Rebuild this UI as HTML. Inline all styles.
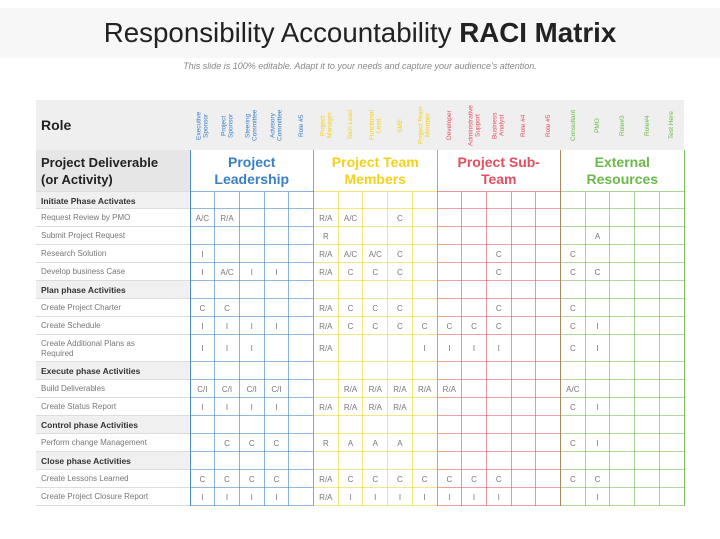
<!DOCTYPE html>
<html><head><meta charset="utf-8">
<style>
body{margin:0;width:720px;height:539px;background:#fff;font-family:"Liberation Sans",sans-serif;position:relative;overflow:hidden}
.a{position:absolute;box-sizing:border-box}
.lbl{font-size:8px;color:#777;padding-left:5px;padding-right:30px;display:flex;align-items:center;line-height:10px}
.ph{font-size:8.5px;font-weight:bold;color:#333;background:#f0f0f0}
.cell{font-size:8px;color:#777;display:flex;align-items:center;justify-content:center}
.rot{writing-mode:vertical-rl;transform:rotate(180deg);font-size:6.5px;text-align:center;line-height:7px;display:flex;align-items:center;justify-content:center}
.grp{font-size:14px;font-weight:bold;text-align:center;line-height:17px;display:flex;align-items:center;justify-content:center}
</style></head><body>
<div class="a" style="left:0;top:8px;width:720px;height:50px;background:#f7f7f7"></div>
<div class="a" style="left:0;top:17px;width:720px;text-align:center;font-size:27.7px;color:#222">Responsibility Accountability <b>RACI Matrix</b></div>
<div class="a" style="left:0;top:61px;width:720px;text-align:center;font-size:9px;font-style:italic;color:#888">This slide is 100% editable. Adapt it to your needs and capture your audience's attention.</div>
<div class="a" style="left:36px;top:100px;width:648px;height:50px;background:#efefef"></div>
<div class="a" style="left:41px;top:117px;font-size:14px;font-weight:bold;color:#222">Role</div>
<div class="a" style="left:36px;top:150px;width:154px;height:42px;background:#e6e6e6;font-size:13px;font-weight:bold;color:#222;padding:4px 5px;line-height:17px">Project Deliverable<br>(or Activity)</div>
<div id="m"></div>
<script>
const roles=["Executive Sponsor","Project Sponsor","Steering Committee","Advisory Committee","Role #5","Project Manager","Tech Lead","Functional Lead","SME","Project Team Member","Developer","Administrative Support","Business Analyst","Role #4","Role #5","Consultant","PMO","Role#3","Role#4","Test Here"];
const groups=["Project<br>Leadership","Project Team<br>Members","Project Sub-<br>Team","External<br>Resources"];
const groupColors=["#3a7fc6","#f2d21b","#e0505f","#6cb84a"];
const rowLabels=["Initiate Phase Activates","Request Review by PMO","Submit Project Request","Research Solution","Develop business Case","Plan phase Activities","Create Project Charter","Create Schedule","Create Additional Plans as Required","Execute phase Activities","Build Deliverables","Create Status Report","Control phase Activities","Perform change Management","Close phase Activities","Create Lessons Learned","Create Project Closure Report"];
const phaseRows=[0,5,9,12,14];
const rowHeights=[17,18,18,18,18,18,18,18,27,18,18,18,18,18,18,18,18];
const cells={
1:{0:"A/C",1:"R/A",5:"R/A",6:"A/C",8:"C"},
2:{5:"R",16:"A"},
3:{0:"I",5:"R/A",6:"A/C",7:"A/C",8:"C",12:"C",15:"C"},
4:{0:"I",1:"A/C",2:"I",3:"I",5:"R/A",6:"C",7:"C",8:"C",12:"C",15:"C",16:"C"},
6:{0:"C",1:"C",5:"R/A",6:"C",7:"C",8:"C",12:"C",15:"C"},
7:{0:"I",1:"I",2:"I",3:"I",5:"R/A",6:"C",7:"C",8:"C",9:"C",10:"C",11:"C",12:"C",15:"C",16:"I"},
8:{0:"I",1:"I",2:"I",5:"R/A",9:"I",10:"I",11:"I",12:"I",15:"C",16:"I"},
10:{0:"C/I",1:"C/I",2:"C/I",3:"C/I",6:"R/A",7:"R/A",8:"R/A",9:"R/A",10:"R/A",15:"A/C"},
11:{0:"I",1:"I",2:"I",3:"I",5:"R/A",6:"R/A",7:"R/A",8:"R/A",15:"C",16:"I"},
13:{1:"C",2:"C",3:"C",5:"R",6:"A",7:"A",8:"A",15:"C",16:"I"},
15:{0:"C",1:"C",2:"C",3:"C",5:"R/A",6:"C",7:"C",8:"C",9:"C",10:"C",11:"C",12:"C",15:"C",16:"C"},
16:{0:"I",1:"I",2:"I",3:"I",5:"R/A",6:"I",7:"I",8:"I",9:"I",10:"I",11:"I",12:"I",16:"I"}
};
const m=document.getElementById('m');
const X0=190,CW=24.7,Y0=192;
function colX(i){return X0+i*CW}
function mk(cls,name,l,t,w,h,txt,st){const d=document.createElement('div');d.className='a '+cls;


d.style.left=l+'px';d.style.top=t+'px';d.style.width=w+'px';d.style.height=h+'px';if(txt)d.innerHTML=txt;if(st)d.style.cssText+=st;m.appendChild(d);return d}
roles.forEach((r,i)=>{const g=Math.floor(i/5);mk('rot','role-label',colX(i),103,CW,45,r,'color:'+groupColors[g]);});
groups.forEach((g,i)=>{mk('grp','group-title',colX(i*5),150,CW*5,42,g,'color:'+groupColors[i]);});
let y=Y0;
rowLabels.forEach((lab,r)=>{const h=rowHeights[r];const ph=phaseRows.includes(r);
mk('lbl'+(ph?' ph':''),ph?'phase-label':'activity-label',36,y,154,h,lab);
mk('','row-line',36,y+h-1,154,1,'','background:#ddd');
for(let g=0;g<4;g++){mk('','row-line',colX(g*5),y+h-1,CW*5,1,'','background:'+groupColors[g]+';opacity:.55');}
const c=cells[r]||{};Object.keys(c).forEach(k=>{mk('cell','raci-cell',colX(+k),y,CW,h,c[k]);});
y+=h;});
mk('','row-line',36,191,154,1,'','background:#ddd');
for(let i=0;i<=20;i++){const g=Math.min(3,Math.floor(i/5));const top=(i%5==0)?150:Y0;
mk('','col-line',colX(i)-0.5,top,1,y-top,'','background:'+groupColors[g]+';opacity:'+(i%5==0?.9:.6));
if(i%5==0&&i>0&&i<20)mk('','col-line',colX(i)-0.5,top,1,y-top,'','background:'+groupColors[g-1]+';opacity:.5');}
for(let g=0;g<4;g++){mk('','row-line',colX(g*5),Y0-1,CW*5,1,'','background:'+groupColors[g]+';opacity:.6');}
</script>
</body></html>
